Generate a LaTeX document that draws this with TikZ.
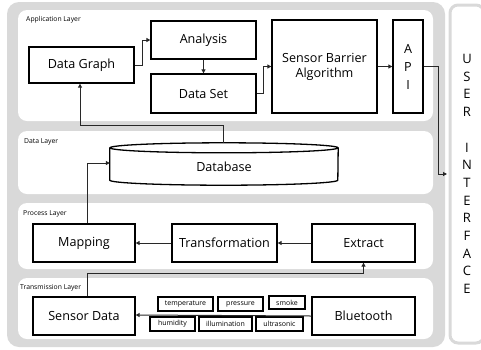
\documentclass[tikz,border=0pt]{standalone}
\usepackage{fontspec}
\setmainfont{Open Sans}
\usetikzlibrary{arrows.meta,calc}
\definecolor{panelgray}{RGB}{217,217,217}
\definecolor{linegray}{RGB}{40,40,40}

\begin{document}
\begin{tikzpicture}[x=1pt,y=-1pt,
  layer/.style={fill=white, rounded corners=9pt},
  layertitle/.style={anchor=west, inner sep=0pt, font=\fontsize{6.8}{7}\selectfont},
  box/.style={draw, line width=1.3pt, inner sep=0pt, font=\fontsize{12.6}{15}\selectfont, align=center},
  tag/.style={draw, line width=1.3pt, inner sep=0pt, font=\fontsize{7}{8}\selectfont},
  conn/.style={draw=linegray, line width=1pt, -{Triangle[length=4pt,width=4pt]}}
]
\useasboundingbox (0,0) rectangle (481,349);

% background panel and the four layers
\fill[panelgray, rounded corners=12pt] (7,2) rectangle (445,347);
\fill[layer] (18,10) rectangle (433,121);
\fill[layer] (18,131) rectangle (433,194);
\fill[layer] (18,203) rectangle (433,269);
\fill[layer] (18,278) rectangle (433,339);

\node[layertitle] at (26,20) {Application Layer};
\node[layertitle] at (24,142) {Data Layer};
\node[layertitle] at (23,214) {Process Layer};
\node[layertitle] at (20,288) {Transmission Layer};

% user interface column
\node[draw=panelgray, line width=3pt, fill=white, rounded corners=8pt,
      minimum width=34pt, minimum height=338pt, inner sep=0pt,
      font=\fontsize{13}{17.7}\selectfont, align=center] (ui) at (467,174)
  {U\\S\\E\\R\\[17.7pt]I\\N\\T\\E\\R\\F\\A\\C\\E};

% application layer
\node[box, minimum width=105pt, minimum height=36pt] (dg) at (81.5,65) {Data Graph};
\node[box, minimum width=105pt, minimum height=38pt] (an) at (203.5,40) {Analysis};
\node[box, minimum width=105pt, minimum height=39pt] (ds) at (203.5,93.5) {Data Set};
\node[box, minimum width=105pt, minimum height=93pt] (sba) at (324.5,66.5) {Sensor Barrier\\Algorithm};
\node[box, minimum width=30pt, minimum height=93pt, font=\fontsize{12.6}{18}\selectfont] (api) at (408,66.5) {A\\P\\I};

% data layer: database drum
\node[minimum width=228pt, minimum height=37pt, inner sep=0pt,
      font=\fontsize{12.6}{15}\selectfont] (db) at (224,166.5) {Database};
\draw[line width=1.3pt] (db.north) ellipse [x radius=114pt, y radius=5pt];
\draw[line width=1.3pt] (db.north west) -- ($(db.south west)+(0,-5)$)
  arc[start angle=180, end angle=360, x radius=114pt, y radius=5pt]
  -- (db.north east);

% process layer
\node[box, minimum width=102pt, minimum height=38pt] (map) at (84,243) {Mapping};
\node[box, minimum width=105pt, minimum height=38pt] (tr) at (224.5,243) {Transformation};
\node[box, minimum width=103pt, minimum height=38pt] (ext) at (363.5,243) {Extract};

% transmission layer
\node[box, minimum width=102pt, minimum height=38pt] (sd) at (84,316) {Sensor Data};
\node[box, minimum width=103pt, minimum height=38pt] (bt) at (363.5,316) {Bluetooth};

\node[tag, minimum width=55pt, minimum height=14pt] (t1) at (185.5,304) {temperature};
\node[tag, minimum width=45pt, minimum height=14pt] (t2) at (240.5,304) {pressure};
\node[tag, minimum width=36pt, minimum height=13pt] (t3) at (287,302.5) {smoke};
\node[tag, minimum width=45pt, minimum height=14pt] (t4) at (172.5,324) {humidity};
\node[tag, minimum width=53pt, minimum height=14pt] (t5) at (225.5,324) {illumination};
\node[tag, minimum width=47pt, minimum height=14pt] (t6) at (279.5,324) {ultrasonic};

% connectors
\draw[conn] (dg.east) -- ++(8,0) |- (an.west);
\draw[conn] (an.south) -- (ds.north);
\draw[conn] (ds.east) -- ++(7,0) |- (sba.west);
\draw[conn] (sba.east) -- (api.west);
\draw[conn] (api.east) -- ++(15,0) |- ($(ui.west)+(-1.5,0)$);
\draw[conn] ($(db.north)+(-1,-5)$) -- ++(0,-17) -| ($(dg.south)+(-1.5,0)$);
\draw[conn] ($(map.north)+(3,0)$) |- ($(db.west)+(0,-3.5)$);
\draw[conn] (ext.west) -- (tr.east);
\draw[conn] (tr.west) -- (map.east);
\draw[conn] ($(sd.north)+(3,0)$) -- ++(0,-23) -| (ext.south);
\draw[conn] (bt.west) -- ($(sd.east)+(0,-1)$);
\end{tikzpicture}
\end{document}
